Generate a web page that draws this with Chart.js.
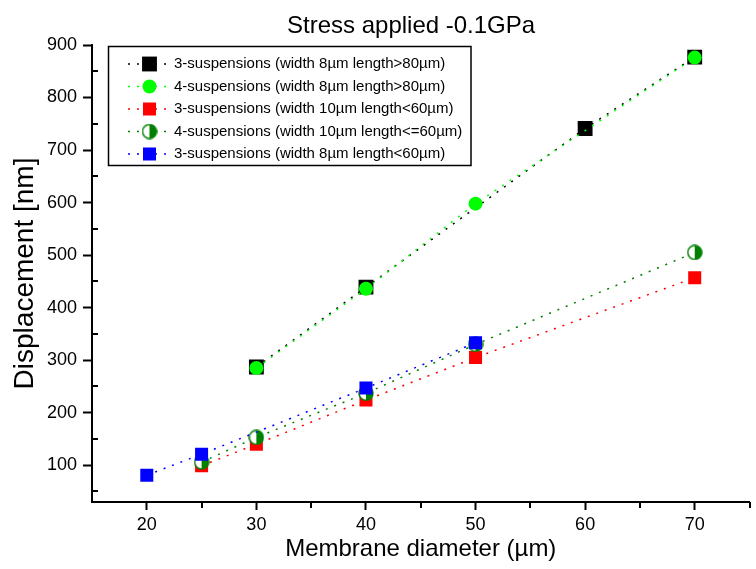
<!DOCTYPE html>
<html>
<head>
<meta charset="utf-8">
<script src="https://cdn.jsdelivr.net/npm/chart.js@4.4.0/dist/chart.umd.min.js"></script>
<style>
  html, body { margin: 0; padding: 0; background: #fff; overflow: hidden; }
  canvas { display: block; }
</style>
</head>
<body>
<canvas id="stressChart" width="760" height="569"></canvas>
<script>
const FONT = '"Liberation Sans", Arial, sans-serif';

const xTicks = [20, 30, 40, 50, 60, 70];
const xMinorTicks = [25, 35, 45, 55, 65, 75];
const yTicks = [100, 200, 300, 400, 500, 600, 700, 800, 900];
const yMinorTicks = [50, 150, 250, 350, 450, 550, 650, 750, 850];

// membrane diameter (um) / displacement (nm) per design
const diam3w8Long = [30, 40, 60, 70];
const disp3w8Long = [287, 439, 741, 877];
const diam4w8Long = [30, 40, 50, 70];
const disp4w8Long = [285, 436, 598, 876];
const diam3w10Short = [25, 30, 40, 50, 70];
const disp3w10Short = [99, 140, 224, 305, 457];
const diam4w10Short = [25, 30, 40, 50, 70];
const disp4w10Short = [106, 153, 237, 330, 505];
const diam3w8Short = [20, 25, 40, 50];
const disp3w8Short = [81, 121, 247, 333];

function halfCircleMarker(size, color) {
  const c = document.createElement('canvas');
  c.width = size;
  c.height = size;
  const g = c.getContext('2d');
  const m = size / 2;
  const r = m - 1;
  g.fillStyle = '#fff';
  g.beginPath(); g.arc(m, m, r, 0, Math.PI * 2); g.fill();
  g.fillStyle = color;
  g.beginPath(); g.moveTo(m, m - r); g.arc(m, m, r, -Math.PI / 2, Math.PI / 2); g.closePath(); g.fill();
  g.strokeStyle = color;
  g.lineWidth = 1.5;
  g.beginPath(); g.arc(m, m, r, 0, Math.PI * 2); g.stroke();
  return c;
}

const halfGreen = halfCircleMarker(16, '#008000');

function makeSeries(label, xs, ys, color, pointStyle, radius, order) {
  return {
    label,
    data: xs.map((x, i) => ({ x, y: ys[i] })),
    borderColor: color,
    backgroundColor: color,
    pointBackgroundColor: color,
    pointBorderWidth: 0,
    pointStyle,
    pointRadius: radius,
    borderWidth: 1.5,
    borderDash: [2, 7],
    fill: false,
    tension: 0,
    order
  };
}

const datasets = [
  makeSeries('3-suspensions (width 8µm length>80µm)', diam3w8Long, disp3w8Long, '#000000', 'rect', 10.5, 5),
  makeSeries('4-suspensions (width 8µm length>80µm)', diam4w8Long, disp4w8Long, '#00ff00', 'circle', 7, 4),
  makeSeries('3-suspensions (width 10µm length<60µm)', diam3w10Short, disp3w10Short, '#ff0000', 'rect', 9.2, 3),
  makeSeries('4-suspensions (width 10µm length<=60µm)', diam4w10Short, disp4w10Short, '#008000', halfGreen, 7, 2),
  makeSeries('3-suspensions (width 8µm length<60µm)', diam3w8Short, disp3w8Short, '#0000ff', 'rect', 9.2, 1)
];

function drawMarker(ctx, ds, x, y) {
  const style = ds.pointStyle;
  ctx.fillStyle = ds.pointBackgroundColor;
  if (style instanceof HTMLCanvasElement) {
    ctx.drawImage(style, x - style.width / 2, y - style.height / 2);
  } else if (style === 'rect') {
    const h = ds.pointRadius * Math.SQRT1_2;
    ctx.fillRect(x - h, y - h, 2 * h, 2 * h);
  } else {
    ctx.beginPath();
    ctx.arc(x, y, ds.pointRadius, 0, Math.PI * 2);
    ctx.fill();
  }
}

// title, minor ticks and the boxed legend
const decorations = {
  id: 'decorations',
  afterDraw(chart) {
    const { ctx, scales: { x, y } } = chart;
    ctx.save();
    ctx.strokeStyle = '#000';
    ctx.lineWidth = 2;
    ctx.setLineDash([]);
    ctx.beginPath();
    yMinorTicks.forEach(v => {
      const py = Math.round(y.getPixelForValue(v));
      ctx.moveTo(x.left, py);
      ctx.lineTo(x.left + 6, py);
    });
    xMinorTicks.forEach(v => {
      const px = Math.round(x.getPixelForValue(v));
      ctx.moveTo(px, y.bottom);
      ctx.lineTo(px, y.bottom + 6);
    });
    ctx.stroke();

    ctx.fillStyle = '#000';
    ctx.font = '24px ' + FONT;
    ctx.textAlign = 'left';
    ctx.textBaseline = 'alphabetic';
    ctx.fillText('Stress applied -0.1GPa', 287, 33);

    const box = { left: 108.5, top: 46.5, width: 362.5, height: 119 };
    ctx.lineWidth = 1.5;
    ctx.strokeRect(box.left, box.top, box.width, box.height);
    ctx.font = '15px ' + FONT;
    ctx.textBaseline = 'middle';
    chart.data.datasets.forEach((ds, i) => {
      const ry = 64 + i * 22.5;
      ctx.strokeStyle = ds.borderColor;
      ctx.lineWidth = 1.5;
      ctx.setLineDash(ds.borderDash);
      ctx.beginPath();
      ctx.moveTo(128, ry);
      ctx.lineTo(167, ry);
      ctx.stroke();
      ctx.setLineDash([]);
      drawMarker(ctx, ds, 149.5, ry);
      ctx.fillStyle = '#000';
      ctx.fillText(ds.label, 174, ry);
    });
    ctx.restore();
  }
};

new Chart(document.getElementById('stressChart'), {
  type: 'line',
  data: { datasets },
  options: {
    responsive: false,
    animation: false,
    events: [],
    layout: { padding: { left: 0, right: 2, top: 45, bottom: 0 } },
    plugins: {
      legend: { display: false },
      title: { display: false },
      tooltip: { enabled: false }
    },
    scales: {
      x: {
        type: 'linear',
        min: 15,
        max: 75,
        afterBuildTicks: scale => { scale.ticks = xTicks.map(v => ({ value: v })); },
        afterFit: scale => { scale.height = 67; },
        grid: { display: true, drawOnChartArea: false, drawTicks: true, tickLength: 8, tickWidth: 2, tickColor: '#000' },
        border: { display: true, color: '#000', width: 2 },
        ticks: { autoSkip: false, maxRotation: 0, color: '#000', padding: 4, font: { family: FONT, size: 18 } },
        title: { display: true, text: 'Membrane diameter (µm)', color: '#000', padding: { top: 0, bottom: 5 }, font: { family: FONT, size: 24 } }
      },
      y: {
        type: 'linear',
        min: 30,
        max: 900,
        afterBuildTicks: scale => { scale.ticks = yTicks.map(v => ({ value: v })); },
        afterFit: scale => { scale.width = 92; },
        grid: { display: true, drawOnChartArea: false, drawTicks: true, tickLength: 9, tickWidth: 2, tickColor: '#000' },
        border: { display: true, color: '#000', width: 2 },
        ticks: { color: '#000', padding: 6, font: { family: FONT, size: 18 } },
        title: { display: true, text: 'Displacement [nm]', color: '#000', padding: { top: 8, bottom: 0 }, font: { family: FONT, size: 28 } }
      }
    }
  },
  plugins: [decorations]
});
</script>
</body>
</html>
